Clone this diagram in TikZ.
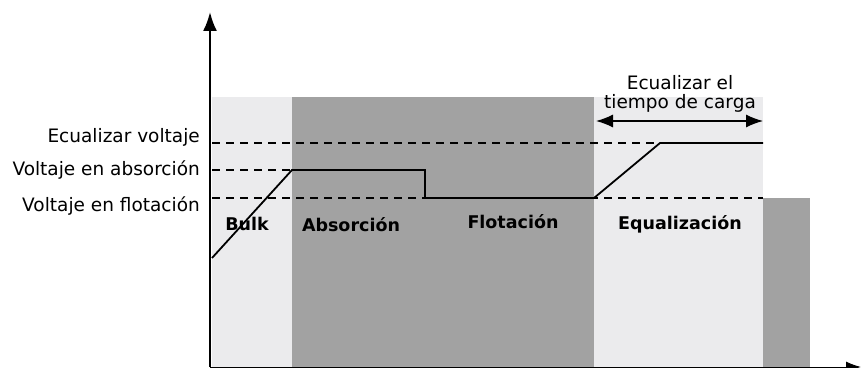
\documentclass[tikz,border=0pt]{standalone}
\usepackage{fontspec}
\setmainfont{DejaVu Sans}
\usetikzlibrary{arrows.meta}
\definecolor{lightband}{HTML}{EBEBED}
\definecolor{darkband}{HTML}{A2A2A2}
\tikzset{
  level/.style={dashed,dash pattern=on 8pt off 6pt,line width=1.3pt},
  curve/.style={line width=1.8pt,line join=miter},
  levellabel/.style={anchor=east,inner sep=0pt,font=\fontsize{18.5}{20}\selectfont},
  phase/.style={inner sep=0pt,font=\fontsize{17.5}{20}\selectfont\bfseries}
}
\begin{document}
\begin{tikzpicture}[x=1pt,y=1pt]
\useasboundingbox (0,0) rectangle (861,367);
\fill[lightband] (212,0) rectangle (292,270);
\fill[darkband] (292,0) rectangle (594,270);
\fill[lightband] (594,0) rectangle (763,270);
\fill[darkband] (763,0) rectangle (810,169);
\draw[level] (212,224) -- (763,224);
\draw[level] (212,197) -- (292,197);
\draw[level] (212,169) -- (763,169);
\draw[curve]
  (212,109) --
  (292,197) --
  (425,197) --
  (425,169) --
  (594,169) --
  (660,224) --
  (763,224);
\coordinate (eqstart) at (596,246);
\coordinate (eqend) at (763,246);
\draw[{Latex[length=17pt,width=13pt]}-{Latex[length=17pt,width=13pt]},line width=1.2pt] (eqstart) -- (eqend);
\node (eqtime) [align=center,inner sep=0pt,font=\fontsize{18.5}{19}\selectfont] at (680,273) {Ecualizar el\\tiempo de carga};
\node (veq) [levellabel] at (200,230) {Ecualizar voltaje};
\node (vabs) [levellabel] at (200,197) {Voltaje en absorción};
\node (vflo) [levellabel] at (200,161) {Voltaje en flotación};
\node (bulk) [phase] at (247,143) {Bulk};
\node (abs) [phase] at (351,142) {Absorción};
\node (flo) [phase] at (513,145) {Flotación};
\node (equ) [phase] at (680,143) {Equalización};
\draw[-{Latex[length=19pt,width=14pt]},line width=2.2pt] (210,0) -- (210,355) node [at end] (vaxis) {};
\draw[-{Latex[length=15pt,width=11pt]},line width=1pt] (210,0) -- (861,0) node [at end] (taxis) {};
\end{tikzpicture}
\end{document}
